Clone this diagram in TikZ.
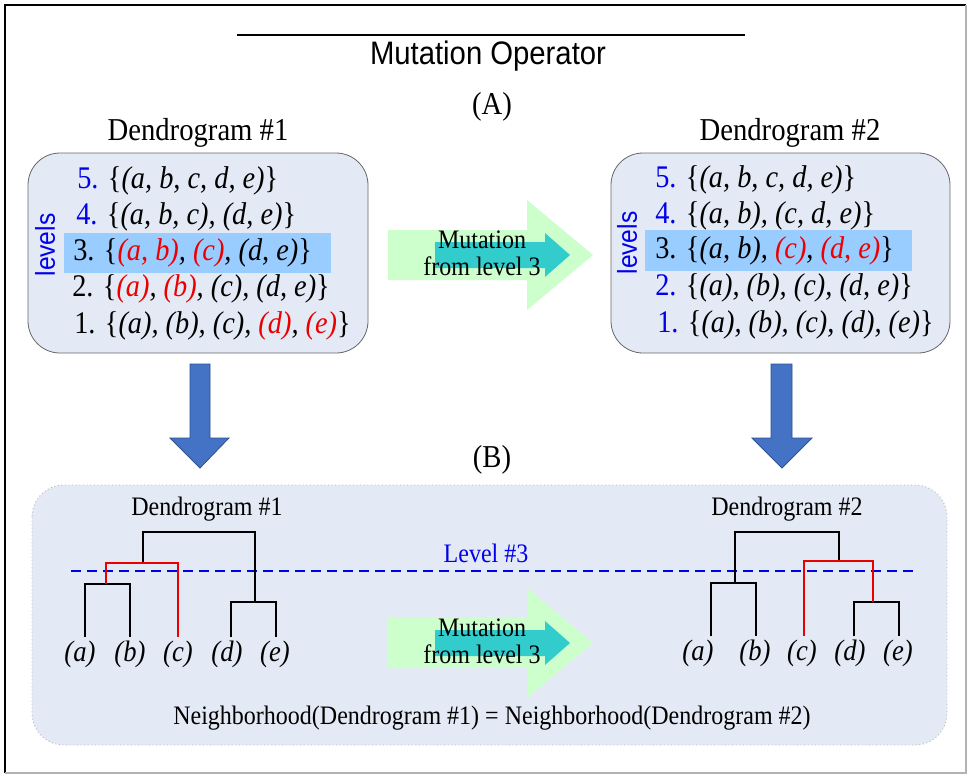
\documentclass[tikz,border=0pt]{standalone}
\usepackage{fontspec}
\setmainfont[FakeStretch=0.9]{Liberation Serif}
\setsansfont[FakeStretch=0.9]{Liberation Sans}
\definecolor{boxfill}{RGB}{228,234,245}
\definecolor{bandblue}{RGB}{153,204,255}
\definecolor{mint}{RGB}{204,255,204}
\definecolor{tealarrow}{RGB}{51,204,204}
\definecolor{downblue}{RGB}{68,114,196}
\definecolor{downedge}{RGB}{47,82,143}
\definecolor{numblue}{RGB}{0,0,235}
\definecolor{dendred}{RGB}{235,0,0}
\newcommand\redtxt[1]{\textcolor{dendred}{#1}}
\newcommand\bluetxt[1]{\textcolor{numblue}{#1}}
\begin{document}
\begin{tikzpicture}[x=0.75pt,y=-0.75pt,
  panel/.style={fill=boxfill, draw=gray!80!black, line width=0.6pt, rounded corners=24pt},
  rowtxt/.style={anchor=west, inner sep=0pt, font=\fontsize{23.6}{27}\selectfont},
  lvl/.style={rotate=90, inner sep=0pt, text=numblue, font=\sffamily\fontsize{20.5}{22}\selectfont},
  heading/.style={inner sep=0pt, font=\fontsize{23.9}{27}\selectfont},
  small/.style={inner sep=0pt, font=\fontsize{20}{23}\selectfont},
  leaf/.style={inner sep=0pt, font=\itshape\fontsize{22.2}{24}\selectfont},
  branch/.style={line width=1.5pt, draw=black},
  redbranch/.style={line width=1.5pt, draw=dendred},
  mutarrow/.style={fill=mint},
  mutinner/.style={fill=tealarrow},
  downarrow/.style={fill=downblue, draw=downedge, line width=0.6pt}]
\useasboundingbox (0,0) rectangle (968,776);
\fill[white] (0,0) rectangle (968,776);

% outer frame
\draw[line width=1.4pt, black] (5,773) -- (5,5) -- (966,5);
\draw[line width=0.8pt, gray!60] (966,5) -- (966,773) -- (5,773);

% title
\draw[line width=2.2pt] (237,35) -- (745,35);
\node[inner sep=0pt, font=\sffamily\fontsize{24.4}{28}\selectfont] (title) at (488,56) {Mutation Operator};
\node[heading] (partA) at (492,107) {(A)};

% ---------- part (A): level lists ----------
\node[heading] (hd1) at (198,133) {Dendrogram \#1};
\node[heading] (hd2) at (790,133) {Dendrogram \#2};

\path[panel] (28,153) rectangle (368,353);
\fill[bandblue] (64,233) rectangle (331,273);
\node[lvl] (lv1) at (45,245) {levels};
\node[rowtxt] (r15) at (77,181) {\bluetxt{5.} \{\textit{(a, b, c, d, e)}\}};
\node[rowtxt] (r14) at (76,217) {\bluetxt{4.} \{\textit{(a, b, c), (d, e)}\}};
\node[rowtxt] (r13) at (73,253) {3. \{\textit{\redtxt{(a, b)}, \redtxt{(c)}, (d, e)}\}};
\node[rowtxt] (r12) at (72,289) {2. \{\textit{\redtxt{(a)}, \redtxt{(b)}, (c), (d, e)}\}};
\node[rowtxt] (r11) at (74,326) {1. \{\textit{(a), (b), (c), \redtxt{(d)}, \redtxt{(e)}}\}};

\path[panel] (611,153) rectangle (950,353);
\fill[bandblue] (645,230) rectangle (912,271);
\node[lvl] (lv2) at (627,243) {levels};
\node[rowtxt] (r25) at (655,180) {\bluetxt{5.} \{\textit{(a, b, c, d, e)}\}};
\node[rowtxt] (r24) at (655,216) {\bluetxt{4.} \{\textit{(a, b), (c, d, e)}\}};
\node[rowtxt] (r23) at (655,251) {3. \{\textit{(a, b), \redtxt{(c)}, \redtxt{(d, e)}}\}};
\node[rowtxt] (r22) at (655,288) {\bluetxt{2.} \{\textit{(a), (b), (c), (d, e)}\}};
\node[rowtxt] (r21) at (657,325) {\bluetxt{1.} \{\textit{(a), (b), (c), (d), (e)}\}};

% mutation arrow between the lists
\fill[mutarrow] (388,230) -- (527,230) -- (527,200) -- (593,255) -- (527,310) -- (527,280) -- (388,280) -- cycle;
\fill[mutinner] (435,242) -- (545,242) -- (545,233) -- (570,255) -- (545,277) -- (545,268) -- (435,268) -- cycle;
\node[small] (mutA1) at (482,240) {Mutation};
\node[small] (mutA2) at (482,266) {from level 3};

% downward arrows
\path[downarrow] (190,364) -- (210,364) -- (210,438) -- (229,438) -- (200,468) -- (170,438) -- (190,438) -- cycle;
\path[downarrow] (771,364) -- (792,364) -- (792,438) -- (812,438) -- (782,468) -- (752,438) -- (771,438) -- cycle;

\node[heading] (partB) at (492,460) {(B)};

% ---------- part (B): dendrograms ----------
\path[fill=boxfill, draw=gray!55, dotted, line width=0.7pt, rounded corners=24pt] (32,485) rectangle (947,745);

\node[small] (dh1) at (207,509) {Dendrogram \#1};
\node[small] (dh2) at (787,509) {Dendrogram \#2};

% level 3 cut
\coordinate (cutL) at (71,571);
\coordinate (cutR) at (917,571);
\draw[numblue, line width=1.5pt, dash pattern=on 7.5pt off 4.5pt] (cutL) -- (cutR);
\node[small, text=numblue] (cutlbl) at (486,553) {Level \#3};

% dendrogram 1
\coordinate (a1) at (85,637);
\coordinate (b1) at (130,637);
\coordinate (c1) at (178,637);
\coordinate (d1) at (231,637);
\coordinate (e1) at (276,637);
\coordinate (ab1) at (106,584);
\coordinate (abc1) at (143,563);
\coordinate (de1) at (255,602);
\coordinate (top1) at (199,532);
\draw[branch] (a1) |- (ab1) -| (b1);
\draw[branch] (d1) |- (de1) -| (e1);
\draw[branch] (abc1) |- (top1) -| (de1);
\draw[redbranch] (ab1) |- (abc1) -| (c1);
\node[leaf] (la1) at (80,654) {(a)};
\node[leaf] (lb1) at (130,654) {(b)};
\node[leaf] (lc1) at (178,654) {(c)};
\node[leaf] (ld1) at (227,654) {(d)};
\node[leaf] (le1) at (275,654) {(e)};

% dendrogram 2
\coordinate (a2) at (711,636);
\coordinate (b2) at (756,636);
\coordinate (c2) at (804,636);
\coordinate (d2) at (854,636);
\coordinate (e2) at (899,636);
\coordinate (ab2) at (735,583);
\coordinate (de2) at (873,602);
\coordinate (cde2) at (839,561);
\coordinate (top2) at (787,532);
\draw[branch] (a2) |- (ab2) -| (b2);
\draw[branch] (d2) |- (de2) -| (e2);
\draw[branch] (ab2) |- (top2) -| (cde2);
\draw[redbranch] (c2) |- (cde2) -| (de2);
\node[leaf] (la2) at (698,653) {(a)};
\node[leaf] (lb2) at (755,653) {(b)};
\node[leaf] (lc2) at (802,653) {(c)};
\node[leaf] (ld2) at (850,653) {(d)};
\node[leaf] (le2) at (898,653) {(e)};

% mutation arrow between the trees
\fill[mutarrow] (388,618) -- (527,618) -- (527,588) -- (593,643) -- (527,698) -- (527,668) -- (388,668) -- cycle;
\fill[mutinner] (435,630) -- (545,630) -- (545,621) -- (570,643) -- (545,665) -- (545,656) -- (435,656) -- cycle;
\node[small] (mutB1) at (482,628) {Mutation};
\node[small] (mutB2) at (482,654) {from level 3};

\node[small] (nbh) at (492,718) {Neighborhood(Dendrogram \#1) = Neighborhood(Dendrogram \#2)};
\end{tikzpicture}
\end{document}
